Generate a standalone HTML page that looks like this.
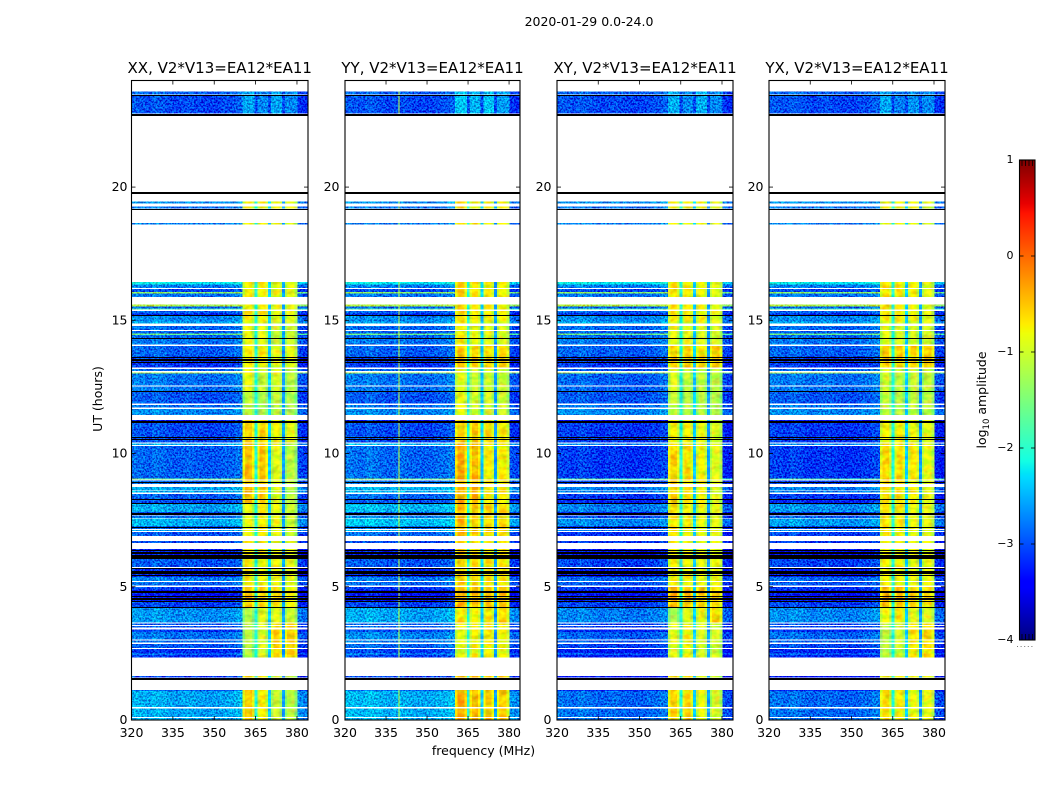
<!DOCTYPE html>
<html>
<head>
<meta charset="utf-8">
<title>2020-01-29 0.0-24.0</title>
<style>
html,body{margin:0;padding:0;background:#fff;width:1050px;height:800px;overflow:hidden}
svg{display:block}
text{font-family:"DejaVu Sans","Liberation Sans",sans-serif;fill:#000}
</style>
</head>
<body>
<svg id="figure" xmlns="http://www.w3.org/2000/svg" width="1050" height="800" viewBox="0 0 1050 800">
<defs>
<filter id="speckle" x="0" y="0" width="1" height="1" color-interpolation-filters="sRGB">
<feTurbulence type="fractalNoise" baseFrequency="0.55" numOctaves="2" seed="7" result="t"/>
<feColorMatrix in="t" type="matrix" values="0 0 0 0 .5  3 0 0 0 -1  2 0 0 0 -.5  0 0 0 0 1" result="n"/>
<feComposite in="SourceGraphic" in2="n" operator="arithmetic" k1="0" k2="1" k3=".5" k4="-.27" result="m"/>
<feComposite in="m" in2="SourceAlpha" operator="in"/>
</filter>
<filter id="blotch" x="0" y="0" width="1" height="1" color-interpolation-filters="sRGB">
<feTurbulence type="fractalNoise" baseFrequency="0.14 0.2" numOctaves="2" seed="11" result="t"/>
<feColorMatrix in="t" type="matrix" values="2 0 0 0 -.5  0 2 0 0 -.5  0 0 0 0 .5  0 0 0 0 1" result="n"/>
<feComposite in="SourceGraphic" in2="n" operator="arithmetic" k1="0" k2="1" k3=".28" k4="-.14" result="m"/>
<feComposite in="m" in2="SourceAlpha" operator="in"/>
</filter>
</defs>
<text x="589" y="26" text-anchor="middle" font-size="12.5">2020-01-29 0.0-24.0</text>
<text x="483.5" y="755" text-anchor="middle" font-size="12.5">frequency (MHz)</text>
<text transform="translate(102,399) rotate(-90)" text-anchor="middle" font-size="12.5">UT (hours)</text>
<text transform="translate(986,400) rotate(-90)" text-anchor="middle" font-size="12.5">log<tspan font-size="8.5" dy="3">10</tspan><tspan dy="-3"> amplitude</tspan></text>
<g id="panels"></g>
<g id="colorbar"></g>
</svg>
<script>
// ---------- chart data ----------
const panelTitles = ["XX, V2*V13=EA12*EA11","YY, V2*V13=EA12*EA11","XY, V2*V13=EA12*EA11","YX, V2*V13=EA12*EA11"];
const freqTicks = [320,335,350,365,380];
const hourTicks = [0,5,10,15,20];
const colorbarTicks = [-4,-3,-2,-1,0,1];

// time rows (hours) with data; anything not listed is flagged (white)
const rowStart = [0,.12,.48,1.09,1.59,2.34,2.45,2.49,2.70,2.90,3.03,3.31,3.47,3.56,3.66,4.23,4.43,4.88,5.04,5.21,5.36,5.74,6.05,6.64,6.90,7.09,7.16,7.28,7.59,7.67,7.81,8.14,8.31,8.53,8.62,8.85,9.02,9.06,10.32,10.42,10.65,11.18,11.45,11.72,11.87,12.34,12.56,13.01,13.09,13.22,13.65,14.09,14.33,14.45,14.50,14.63,14.88,14.96,15.19,15.26,15.40,15.45,15.52,15.87,16.0,16.07,16.22,16.35,18.6,19.2,19.39,22.77,23.47];
const rowEnd = [.07,.44,1.09,1.13,1.65,2.45,2.49,2.66,2.86,2.99,3.31,3.40,3.53,3.63,4.23,4.43,4.88,5.00,5.18,5.36,5.70,6.05,6.41,6.71,7.05,7.13,7.28,7.56,7.65,7.81,8.14,8.31,8.49,8.59,8.75,8.98,9.06,10.28,10.37,10.65,11.18,11.25,11.68,11.82,12.32,12.52,13.01,13.05,13.17,13.65,14.04,14.33,14.45,14.50,14.59,14.78,14.96,15.19,15.26,15.35,15.45,15.52,15.60,16.0,16.07,16.17,16.35,16.43,18.65,19.28,19.46,23.45,23.59];
// log10 amplitude of the 320-360 MHz part of each row
const rowLow = [-2.55,-2.55,-2.55,-2.9,-3.1,-3.15,-2.6,-3.15,-2.95,-2.85,-2.8,-3.1,-2.95,-2.95,-2.65,-3.05,-3.3,-3.1,-2.85,-2.75,-3.2,-2.95,-3.25,-3.0,-2.95,-2.6,-2.9,-2.5,-2.8,-3.0,-2.55,-3.0,-2.9,-2.55,-2.55,-2.85,-1.6,-2.9,-2.5,-3.0,-3.0,-3.3,-2.7,-2.8,-2.95,-2.8,-2.8,-1.3,-2.85,-3.1,-2.9,-2.8,-2.85,-1.6,-2.9,-2.85,-2.55,-2.7,-3.2,-2.9,-1.9,-2.9,-1.2,-2.8,-1.4,-3.0,-2.75,-2.2,-2.75,-2.8,-2.65,-3.0,-2.9];
// row-level adjustment of the 360-380 MHz bands
const rowBoost = [0,0,0,.05,0,0,.1,-.1,0,0,0,0,0,0,0,0,.05,0,0,0,0,0,0,0,0,0,0,0,0,0,0,0,0,0,0,0,.1,0,0,0,0,0,0,0,0,0,0,.05,0,0,0,0,0,0,0,0,0,0,0,0,0,0,0,0,0,0,0,0,0,0,0,0,0];

// column structure (MHz)
const lowColumnEdges = [320,322.5,325,327.5,330,332.5,335,337.5,340,342.5,345,347.5,350,352.5,355,357.5,360.3];
const lowColumnDelta = [.08,.05,0,.1,.05,0,-.05,0,.02,-.02,-.05,-.05,-.05,0,.02,.1];
const edgeColumnEdges = [380,382,384];
const edgeColumnDelta = [-.12,-.18];
const bandStart = [360.3,365.5,370.5,375.5];
const bandEnd = [364.6,369.5,374.5,380];
const bandRim = 0.9;
const bandRimDrop = -0.3;
const notchStart = [364.6,369.5,374.5];
const notchEnd = [365.5,370.5,375.5];
const notchLevel = [-2.05,-2.35,-2.6];
const spurFreqStart = [null,339.5,null,null];
const spurFreqEnd = [null,339.9,null,null];
const spurLevel = -1.05;

// coarse time blocks for the slowly varying per-polarisation levels
const blockStart = [0,2.3,3.6,4.3,5.0,6.9,8.1,10.4,11.4,12.4,13.2,14.1,15,18,22];
const panelLowOffset = [
 [0,0,0,0,0,0,0,0,0,0,0,0,0,0,0],
 [.05,.1,.1,0,0,.1,.05,0,0,0,0,0,0,0,0],
 [-.3,-.1,-.1,0,-.1,-.2,-.2,-.1,0,-.1,0,0,0,0,0],
 [-.3,-.05,-.05,0,-.1,-.1,-.2,-.1,0,0,0,0,0,0,0]
];
const bandLevelsXX = [[-.55,-.7,-1.0,-1.1],[-1.1,-.9,-.55,-.5],[-1.15,-.85,-.85,-1.0],[-.5,-.6,-.65,-.75],[-.7,-.75,-.8,-.85],[-.8,-.7,-.8,-1.0],[-.45,-.5,-.85,-1.1],[-.55,-.55,-.75,-.85],[-1.05,-1.15,-1.05,-1.2],[-.8,-1.0,-.9,-1.1],[-.7,-.7,-.85,-.85],[-.8,-.85,-1.0,-1.0],[-.7,-.7,-.8,-.85],[-.7,-.7,-.75,-.85],[-2.55,-2.7,-2.55,-2.7]];
const bandLevelsYY = [[-.35,-.4,-.5,-.55],[-.8,-.75,-.65,-.75],[-.65,-.7,-.7,-.6],[-.35,-.4,-.5,-.5],[-.55,-.6,-.65,-.65],[-.4,-.55,-.55,-.6],[-.35,-.4,-.65,-.7],[-.5,-.5,-.6,-.7],[-.8,-.95,-.95,-1.0],[-.85,-1.0,-.95,-1.0],[-.5,-.6,-.6,-.6],[-.7,-.8,-.85,-.9],[-.55,-.65,-.7,-.75],[-.6,-.65,-.7,-.7],[-2.4,-2.5,-2.4,-2.6]];
const bandLevelsXY = [[-.55,-.6,-.8,-.95],[-.85,-.75,-.9,-.95],[-1.2,-.85,-.8,-.55],[-.4,-.45,-.5,-.6],[-.75,-.75,-.8,-.8],[-.65,-.75,-.8,-.85],[-.55,-.6,-.75,-.9],[-.75,-.75,-.8,-.9],[-1.05,-1.1,-1.1,-1.15],[-.9,-1.05,-1.05,-1.1],[-.55,-.55,-.6,-.55],[-.85,-.85,-.9,-.95],[-.65,-.65,-.75,-.85],[-.75,-.75,-.75,-.9],[-2.5,-2.7,-2.5,-2.7]];
const bandLevelsYX = [[-.6,-.7,-.8,-.85],[-1.05,-.95,-.65,-.6],[-.8,-.65,-.85,-.9],[-.4,-.45,-.55,-.65],[-.75,-.75,-.8,-.8],[-.65,-.7,-.8,-.85],[-.6,-.6,-.7,-.85],[-.75,-.7,-.8,-.85],[-1.05,-1.1,-1.05,-1.1],[-.95,-1.05,-1.0,-1.05],[-.55,-.55,-.55,-.55],[-.85,-.9,-.9,-.95],[-.65,-.65,-.75,-.85],[-.75,-.75,-.75,-.9],[-2.55,-2.75,-2.65,-2.7]];
const panelBandLevels = [bandLevelsXX,bandLevelsYY,bandLevelsXY,bandLevelsYX];

// fully flagged integrations, drawn as black lines (hours)
const blackLineHours = [1.57,1.54,4.25,4.46,4.53,4.59,4.65,4.8,4.83,4.86,5.44,5.5,5.55,5.6,5.7,6.07,6.11,6.16,6.21,6.26,6.31,6.37,7.26,7.74,7.78,8.14,8.31,8.95,10.55,10.61,11.17,11.21,12.36,13.43,13.5,13.55,13.61,14.33,15.19,19.18,19.76,19.8,22.7,22.74,23.47];

// ---------- layout ----------
const panelLeft = [131.5,345,557,769];
const panelRight = [308,520,733,945];
const hourLabelGap = [4,5.5,5.5,5.5];
const plotTop = 80.5, plotBottom = 720, hourMax = 24, freqMin = 320, freqMax = 384;
const cbLeft = 1019.5, cbRight = 1035, cbTop = 160, cbBottom = 640, levelMin = -4, levelMax = 1;

const SVGNS = "http://www.w3.org/2000/svg";
function mk(tag, attrs, parent){
  const el = document.createElementNS(SVGNS, tag);
  for (const k in attrs) el.setAttribute(k, attrs[k]);
  parent.appendChild(el);
  return el;
}
function interp(pts, t){
  for (let i = 1; i < pts.length; i++){
    if (t <= pts[i][0]){
      const a = pts[i-1], b = pts[i];
      return a[1] + (b[1]-a[1])*(t-a[0])/(b[0]-a[0]);
    }
  }
  return pts[pts.length-1][1];
}
const jetR = [[0,0],[.35,0],[.66,1],[.89,1],[1,.5]];
const jetG = [[0,0],[.125,0],[.375,1],[.64,1],[.91,0],[1,0]];
const jetB = [[0,.5],[.11,1],[.34,1],[.65,0],[1,0]];
function colorOf(level){
  const t = Math.max(0, Math.min(1, (level-levelMin)/(levelMax-levelMin)));
  return "rgb(" + Math.round(255*interp(jetR,t)) + "," + Math.round(255*interp(jetG,t)) + "," + Math.round(255*interp(jetB,t)) + ")";
}
function yOf(h){ return plotBottom - h/hourMax*(plotBottom-plotTop); }
function blockOf(h){
  let b = 0;
  for (let i = 0; i < blockStart.length; i++) if (h >= blockStart[i]) b = i;
  return b;
}

const panelsRoot = document.getElementById("panels");
panelTitles.forEach(function(title, p){
  const xOf = function(f){ return panelLeft[p] + (f-freqMin)/(freqMax-freqMin)*(panelRight[p]-panelLeft[p]); };
  const g = mk("g", {}, panelsRoot);
  
  
  const lowG = mk("g", {filter:"url(#speckle)", "shape-rendering":"crispEdges"}, g);
  
  
  const brightG = mk("g", {filter:"url(#blotch)", "shape-rendering":"crispEdges"}, g);
  
  
  const spurG = mk("g", {"shape-rendering":"crispEdges"}, g);
  
  
  const cell = function(parent, f0, f1, r, level){
    const y0 = yOf(rowEnd[r]), y1 = yOf(rowStart[r]);
    const el = mk("rect", {x:xOf(f0).toFixed(2), y:y0.toFixed(2), width:(xOf(f1)-xOf(f0)+.3).toFixed(2), height:Math.max(y1-y0,1).toFixed(2), fill:colorOf(level)}, parent);
    
    
  };
  rowStart.forEach(function(start, r){
    const block = blockOf((start+rowEnd[r])/2);
    const quiet = block === blockStart.length-1;
    const low = rowLow[r] + panelLowOffset[p][block];
    lowColumnDelta.forEach(function(d, c){ cell(lowG, lowColumnEdges[c], lowColumnEdges[c+1], r, low+d); });
    edgeColumnDelta.forEach(function(d, c){ cell(lowG, edgeColumnEdges[c], edgeColumnEdges[c+1], r, low+d); });
    const target = quiet ? lowG : brightG;
    bandStart.forEach(function(f, b){
      const level = panelBandLevels[p][block][b]+rowBoost[r];
      const rim = quiet ? 0 : bandRimDrop;
      cell(target, f, f+bandRim, r, level+rim);
      cell(target, f+bandRim, bandEnd[b]-bandRim, r, level);
      cell(target, bandEnd[b]-bandRim, bandEnd[b], r, level+rim);
    });
    notchStart.forEach(function(f, n){ cell(target, f, notchEnd[n], r, quiet ? low : notchLevel[n]); });
    if (spurFreqStart[p] !== null) cell(spurG, spurFreqStart[p], spurFreqEnd[p], r, spurLevel);
  });
  blackLineHours.forEach(function(h){
    const y = Math.round(yOf(h)) + .5;
    const line = mk("line", {x1:panelLeft[p], x2:panelRight[p], y1:y, y2:y, stroke:"#000", "stroke-width":1, "shape-rendering":"crispEdges"}, g);
    
    
  });
  const frame = mk("rect", {x:panelLeft[p], y:plotTop, width:panelRight[p]-panelLeft[p], height:plotBottom-plotTop, fill:"none", stroke:"#000", "stroke-width":1.1}, g);
  
  
  freqTicks.forEach(function(f){
    const x = xOf(f);
    [[plotBottom,plotBottom-4],[plotTop,plotTop+4]].forEach(function(s){
      const t = mk("line", {x1:x, x2:x, y1:s[0], y2:s[1], stroke:"#000", "stroke-width":.8}, g);
      
      
    });
    const lab = mk("text", {x:x, y:737, "text-anchor":"middle", "font-size":12.5}, g);
    
    
    lab.textContent = f;
  });
  hourTicks.forEach(function(h){
    const y = yOf(h);
    [[panelLeft[p],panelLeft[p]+4],[panelRight[p],panelRight[p]-4]].forEach(function(s){
      const t = mk("line", {x1:s[0], x2:s[1], y1:y, y2:y, stroke:"#000", "stroke-width":.8}, g);
      
      
    });
    const lab = mk("text", {x:panelLeft[p]-hourLabelGap[p], y:y+4, "text-anchor":"end", "font-size":12.5}, g);
    
    
    lab.textContent = h;
  });
  const tt = mk("text", {x:(panelLeft[p]+panelRight[p])/2, y:73, "text-anchor":"middle", "font-size":15}, g);
  
  
  tt.textContent = title;
});

// ---------- colorbar ----------
const cb = document.getElementById("colorbar");
const cbY = function(v){ return cbBottom - (v-levelMin)/(levelMax-levelMin)*(cbBottom-cbTop); };
const cbG = mk("g", {"shape-rendering":"crispEdges"}, cb);


const cbSteps = 240;
for (let i = 0; i < cbSteps; i++){
  const v0 = levelMin + (levelMax-levelMin)*i/cbSteps;
  const v1 = levelMin + (levelMax-levelMin)*(i+1)/cbSteps;
  const r = mk("rect", {x:cbLeft, y:cbY(v1), width:cbRight-cbLeft, height:cbY(v0)-cbY(v1)+.5, fill:colorOf((v0+v1)/2)}, cbG);
  
  
}
const cbFrame = mk("rect", {x:cbLeft, y:cbTop, width:cbRight-cbLeft, height:cbBottom-cbTop, fill:"none", stroke:"#000", "stroke-width":1.1}, cb);


colorbarTicks.forEach(function(v){
  const y = cbY(v);
  [[cbLeft,cbLeft+4],[cbRight,cbRight-4]].forEach(function(s){
    const t = mk("line", {x1:s[0], x2:s[1], y1:y, y2:y, stroke:"#000", "stroke-width":.8}, cb);
    
    
  });
  const lab = mk("text", {x:1013.5, y:y+3, "text-anchor":"end", "font-size":11}, cb);
  
  
  lab.textContent = v < 0 ? "\u2212" + Math.abs(v) : String(v);
});
[1022,1025.5,1029,1032.5].forEach(function(x){
  const a = mk("line", {x1:x, x2:x, y1:cbTop, y2:cbTop+6, stroke:"#000", "stroke-width":.8}, cb);
  
  
  const b = mk("line", {x1:x, x2:x, y1:cbBottom, y2:cbBottom-6, stroke:"#000", "stroke-width":.8}, cb);
  
  
});
const dots = mk("line", {x1:1017, x2:1035, y1:646.5, y2:646.5, stroke:"#777", "stroke-width":1, "stroke-dasharray":"1 2.6"}, cb);


</script>
</body>
</html>
